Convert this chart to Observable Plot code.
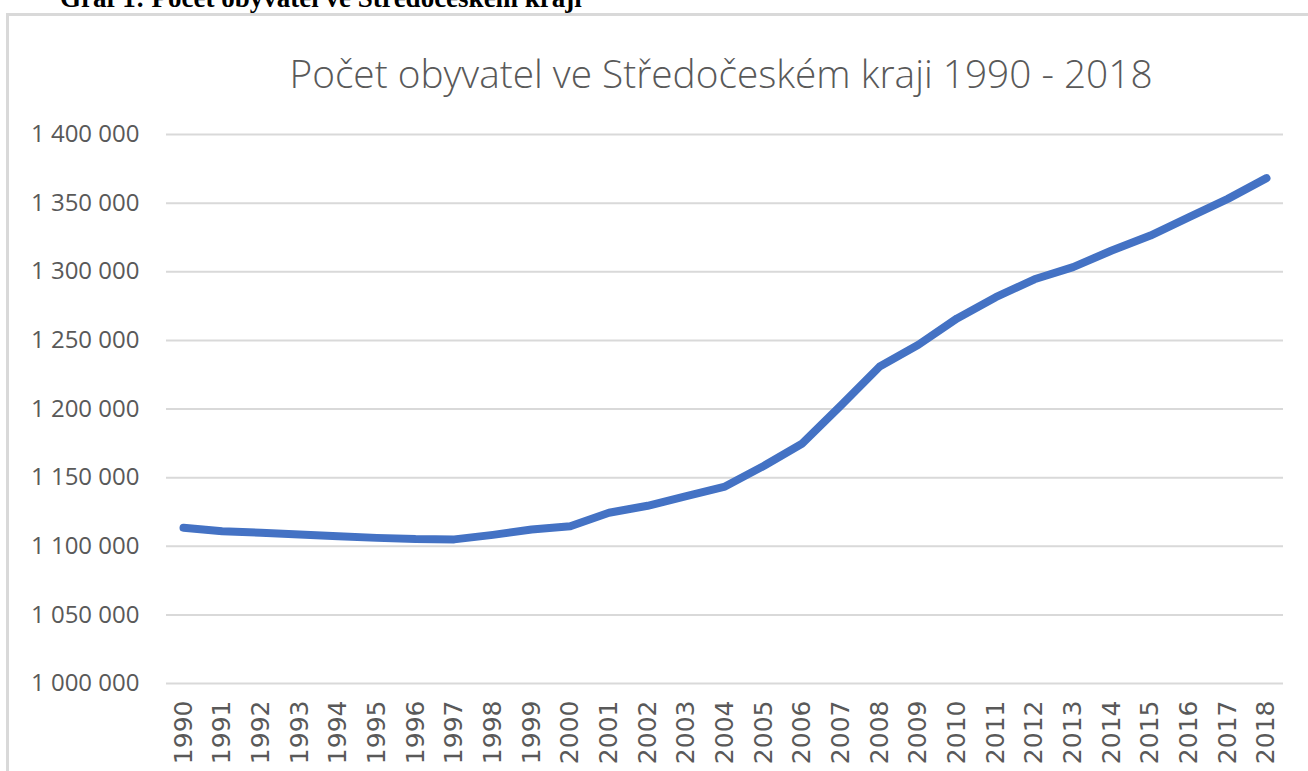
<!DOCTYPE html>
<html><head><meta charset="utf-8">
<script src="https://cdn.jsdelivr.net/npm/d3@7"></script>
<script src="https://cdn.jsdelivr.net/npm/@observablehq/plot@0.6"></script>
<style>
body{margin:0;background:#fff;width:1308px;height:771px;overflow:hidden;position:relative;}
#caption{position:absolute;left:60px;top:-15px;font-family:"Liberation Serif";font-weight:bold;font-size:27px;line-height:27px;color:#000;white-space:nowrap}
#frame{position:absolute;left:6px;top:13px;width:1400px;height:900px;border:3px solid #d9d9d9;box-sizing:border-box}
#title{position:absolute;left:0;width:1442px;top:54px;text-align:center;font-family:"Open Sans";font-weight:300;font-size:38.8px;line-height:38.8px;color:#595959;white-space:nowrap}
#chart{position:absolute;left:0;top:0}
</style></head>
<body>
<div id="caption">Graf 1: Počet obyvatel ve Středočeském kraji</div>
<div id="frame"></div>
<div id="title">Počet obyvatel ve Středočeském kraji 1990 - 2018</div>
<div id="chart"></div>
<script>
const years = ["1990","1991","1992","1993","1994","1995","1996","1997","1998","1999","2000","2001","2002","2003","2004","2005","2006","2007","2008","2009","2010","2011","2012","2013","2014","2015","2016","2017","2018"];
const population = [1113400,1111000,1109800,1108600,1107300,1106100,1105200,1105000,1108300,1112200,1114600,1124400,1129500,1136500,1143500,1158500,1174900,1202600,1231000,1246800,1266000,1281500,1294500,1303400,1315500,1326400,1339800,1353100,1368200];
const yTicks = [1000000,1050000,1100000,1150000,1200000,1250000,1300000,1350000,1400000];

const data = years.map((y,i)=>({year:y, value:population[i]}));
const fmt = d => d3.format(",")(d).replace(/,/g," ");

const chart = Plot.plot({
  width:1308, height:771,
  marginTop:134, marginBottom:88, marginLeft:166, marginRight:25,
  style:{background:"transparent", color:"#595959", overflow:"visible"},
  x:{type:"point", domain:years, padding:0.44, round:false, label:null},
  y:{domain:[1000000,1400000], label:null},
  marks:[
    Plot.ruleY(yTicks,{stroke:"#d9d9d9", strokeWidth:2}),
    Plot.axisY(yTicks,{tickSize:0, tickPadding:27, tickFormat:fmt, fontSize:24, fontFamily:"Open Sans", label:null}),
    Plot.axisX({tickSize:0, tickRotate:-90, tickPadding:17, fontSize:25, fontFamily:"DejaVu Sans", label:null}),
    Plot.line(data,{x:"year", y:"value", stroke:"#4472C4", strokeWidth:8, strokeLinecap:"round", strokeLinejoin:"round"})
  ]
});
d3.select(chart).selectAll("text").filter(function(){ return /^\d{4}$/.test(this.textContent.trim()); })
  .style("font-family","'DejaVu Sans'").style("font-size","25px");
document.getElementById("chart").appendChild(chart);
</script>
</body></html>
